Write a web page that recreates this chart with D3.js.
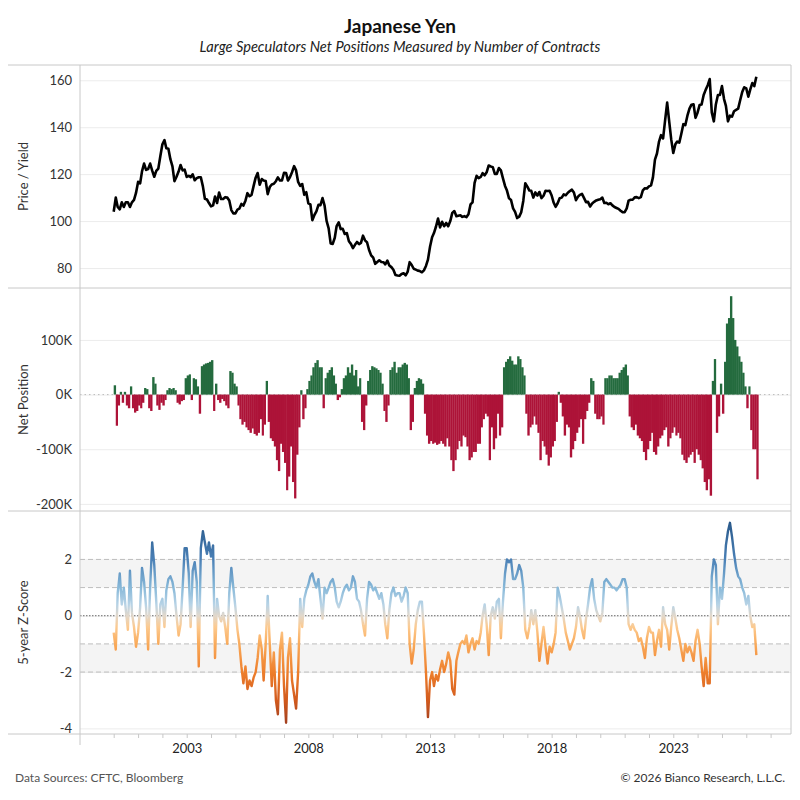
<!DOCTYPE html>
<html>
<head>
<meta charset="utf-8">
<script src="https://cdn.jsdelivr.net/npm/d3@7"></script>
<style>
  body { margin: 0; background: #fff; }
  svg { font-family: Lato, "Open Sans", sans-serif; }
</style>
</head>
<body>
<div id="chart"></div>
<script>
// monthly values, first point = Jan 2000
const startYear = 2000;

const price = [
  104, 110, 106, 105, 108, 106, 108, 108, 106, 108, 109, 112,
  116.7, 116.1, 121.2, 124.5, 121.8, 122.2, 124.5, 121.5, 118.9, 121.4, 122.4, 127.6,
  132.7, 134.5, 131.0, 130.8, 126.4, 123.3, 117.0, 118.9, 121.1, 123.9, 121.6, 121.9,
  118.8, 119.3, 118.7, 119.9, 117.4, 118.3, 118.7, 118.7, 114.8, 109.5, 109.2, 107.7,
  106.3, 106.7, 110.5, 107.7, 112.2, 109.4, 109.4, 110.2, 110.0, 108.8, 104.7, 103.3,
  103.3, 104.9, 105.3, 107.3, 106.6, 108.7, 111.9, 110.6, 111.2, 114.9, 118.5, 120.5,
  115.5, 117.9, 117.3, 117.1, 111.5, 114.5, 115.6, 115.9, 117.0, 118.6, 117.3, 117.3,
  120.6, 120.5, 117.3, 118.8, 120.8, 123.4, 121.6, 116.7, 115.0, 115.8, 111.2, 112.3,
  107.6, 107.1, 100.4, 102.6, 104.1, 106.9, 106.8, 109.8, 106.6, 100.1, 96.9, 90.5,
  90.3, 92.9, 97.9, 99.5, 96.6, 96.7, 94.5, 94.9, 91.4, 90.3, 88.5, 89.9,
  91.1, 90.2, 90.7, 93.8, 91.8, 90.9, 87.7, 85.4, 84.4, 81.8, 82.6, 83.3,
  82.6, 82.5, 81.6, 83.2, 81.1, 80.4, 79.3, 77.0, 76.8, 76.7, 77.5, 77.8,
  76.9, 78.5, 82.5, 81.3, 79.7, 79.3, 78.9, 78.7, 78.2, 79.0, 80.9, 83.6,
  89.1, 93.1, 94.9, 97.7, 101.1, 97.3, 99.7, 97.8, 99.2, 97.8, 100.0, 103.5,
  104.3, 102.1, 102.3, 102.5, 101.8, 102.1, 101.7, 102.9, 107.1, 108.0, 116.3, 119.3,
  118.3, 118.8, 120.4, 119.5, 120.8, 123.7, 123.3, 123.0, 120.1, 120.1, 122.6, 121.6,
  118.2, 115.0, 113.0, 109.7, 109.0, 105.4, 103.9, 101.3, 101.9, 103.8, 108.6, 116.1,
  114.7, 113.0, 112.9, 110.0, 112.2, 110.9, 112.4, 109.8, 110.8, 112.9, 112.8, 112.9,
  110.9, 107.8, 106.1, 107.6, 109.7, 110.0, 111.4, 111.0, 112.1, 112.8, 113.4, 112.2,
  108.9, 110.4, 111.2, 111.6, 109.9, 108.1, 108.2, 106.2, 107.5, 108.2, 108.8, 109.1,
  109.3, 110.0, 107.7, 107.8, 107.2, 107.6, 106.7, 106.0, 105.6, 105.2, 104.4, 103.8,
  103.8, 105.4, 108.7, 109.1, 109.1, 110.1, 110.2, 109.8, 110.2, 113.1, 114.0, 113.9,
  114.8, 115.2, 118.5, 126.2, 128.8, 133.9, 136.6, 135.2, 143.1, 150.5, 142.4, 134.8,
  129.0, 132.7, 133.9, 133.4, 137.1, 141.3, 140.9, 144.9, 147.9, 149.6, 149.8, 144.0,
  146.3, 149.5, 149.7, 153.7, 155.9, 157.9, 160.5, 146.3, 142.5, 149.7, 153.7, 153.7,
  157.5, 152.0, 149.1, 142.5, 144.9, 144.5, 146.8, 147.4, 147.9, 151.5, 155.0, 157.0,
  156.5, 153.0, 156.0, 158.8, 157.5, 161.5
];

// thousands of contracts
const netPosition = [
  17, -57, -20, 5, -15, 5, -20, -25, 15, -25, -33, -30,
  -20, -25, -15, 12, 10, -25, -30, 32, 20, -20, -28, -15,
  -20, -10, 8, 12, 10, 12, 8, -15, -18, -12, -10, 30,
  35, 37, -10, 30, 28, 15, -35, 52, 55, 57, 58, 60,
  63, -30, 20, -10, -15, -8, -12, -20, -25, 43, 40, 20,
  15, -20, -45, -55, -50, -60, -65, -70, -62, -72, -75, -70,
  -45, -75, -55, 25, -50, -80, -85, -95, -120, -140, -90, -105,
  -125, -175, -150, -95, -160, -190, -110, -60, 8, -45, -25, 10,
  25, 35, 50, 58, 63, 50, 50, -25, 30, 40, 45, 50,
  35, 20, -10, -5, 10, 30, 35, 50, 40, 55, 35, 45,
  15, 30, -50, -65, -20, 25, 45, 52, 50, 48, 45, 40,
  20, -30, -50, -20, 45, 50, 60, 40, 50, 50, 55, 58,
  55, 30, -65, -50, 12, 25, 30, 28, 20, -35, -75, -90,
  -85, -90, -88, -92, -90, -85, -90, -95, -80, -95, -120, -140,
  -120, -100, -85, -95, -75, -78, -95, -120, -115, -105, -105, -90,
  -90, -60, -45, -35, -40, -120, -60, -100, -80, -35, -75, -60,
  50, 60, 65, 70, 62, 55, 55, 70, 65, 50, 35, -35,
  -75, -60, -55, -40, -55, -70, -120, -85, -95, -110, -130, -115,
  -95, -85, -50, 5, -15, -40, -75, -55, -60, -115, -100, -85,
  -70, -60, -45, -90, -45, -30, -15, 30, 25, -35, -45, -45,
  -40, -55, 30, 30, 35, 35, 30, 30, 30, 40, 45, 50,
  55, 35, -40, -60, -65, -55, -75, -80, -85, -105, -120, -100,
  -85, -70, -105, -110, -95, -80, -75, -65, -60, -95, -80, -70,
  -60, -75, -70, -80, -110, -120, -125, -115, -110, -105, -125, -100,
  -110, -120, -135, -160, -175, -155, -185, 25, 65, -70, -40, 20,
  -35, 60, 130, 140, 180, 140, 100, 88, 70, 60, 40, 15,
  -25, 15, -65, -100, -100, -155
];

const zScore = [
  -0.6, -1.2, 0.8, 1.5, 0.4, 1.0, 0.2, -0.5, 1.6, 0.1, -0.4, -1.1,
  -0.6, 0.3, 1.7, 1.2, 0.3, -1.2, 1.0, 2.6, 1.8, 0.5, -1.0, 0.4,
  0.6, -0.4, 0.9, 1.3, 1.4, 1.2, 0.8, 0.0, -0.7, -0.3, 1.0, 2.4,
  2.4, 1.5, -0.4, 1.6, 1.9, 1.2, -1.8, 2.4, 3.0, 2.6, 2.2, 2.6,
  2.1, 2.5, -1.5, 0.6, 0.0, -0.2, 0.1, -0.4, -1.0, 0.8, 1.7, 1.0,
  0.3, -0.5, -1.0, -1.8, -2.4, -1.8, -2.6, -2.3, -2.5, -2.2, -2.0, -1.5,
  -0.7, -1.2, -2.3, -1.0, 0.7, -1.0, -2.5, -1.3, -3.0, -3.5, -1.2, -0.6,
  -2.5, -3.8, -1.5, -0.8, -2.3, -2.8, -3.3, -2.0, 0.6, -0.4, 0.6, 0.9,
  1.1, 1.4, 1.5, 1.2, 1.0, 1.3, 0.6, -0.1, 1.0, 0.8, 1.0, 1.2,
  1.3, 1.0, 0.5, 0.3, 0.5, 0.8, 1.0, 1.1, 0.9, 1.0, 1.4, 1.2,
  0.6, 0.5, 0.2, -0.3, -0.7, 0.6, 1.2, 1.1, 0.9, 1.0, 0.8, 0.6,
  0.8, 0.4, -0.3, -0.8, 0.2, 0.8, 1.0, 0.7, 0.8, 0.8, 0.5, 0.7,
  1.0, 0.8, -1.0, -1.7, -1.2, -0.3, 0.2, 0.5, 0.5, -0.6, -2.0, -3.6,
  -2.3, -2.0, -2.5, -2.1, -2.3, -1.9, -1.6, -2.0, -1.7, -1.3, -1.6, -2.6,
  -2.8, -1.6, -1.3, -1.0, -0.9, -1.0, -0.7, -1.3, -1.0, -0.8, -1.2, -0.9,
  -1.0, -0.6, 0.0, 0.4, -0.3, -1.4, 0.0, 0.3, -0.1, 0.5, 0.6, -0.8,
  0.5, 1.5, 2.0, 1.9, 2.0, 1.3, 1.3, 1.5, 1.8, 1.6, 1.0, -0.5,
  -0.8, -0.4, 0.2, -0.3, 0.2, -0.6, -1.6, -1.0, -0.4, -1.1, -1.7, -1.1,
  -1.3, -1.0, -0.6, 1.0, 0.7, 0.3, -0.1, -0.6, -0.9, -1.2, -1.0, -0.8,
  -0.4, 0.3, 0.0, -0.5, -0.8, -0.1, 0.4, 1.0, 1.3, 0.6, 0.2, 0.0,
  -0.2, 0.1, 1.2, 1.3, 1.2, 1.1, 1.0, 1.0, 0.9, 1.0, 1.1, 1.3,
  1.3, 1.0, -0.3, -0.5, -0.3, -0.5, -0.6, -0.9, -0.8, -1.1, -1.5, -0.8,
  -0.4, -0.6, -0.6, -1.4, -0.9, -0.5, -1.1, 0.3, -0.3, -0.5, -1.2, -0.4,
  0.3, -0.1, -0.5, -0.8, -1.2, -1.6, -1.0, -1.3, -1.1, -1.3, -1.6, -0.9,
  -0.5, -1.0, -1.8, -2.5, -1.5, -2.4, -2.4, 1.4, 2.0, 1.8, -0.3, 1.0,
  0.6, 1.5, 2.5, 3.0, 3.3, 2.8, 2.2, 1.7, 1.4, 1.3, 1.0, 0.8,
  0.4, 0.7, 0.0, -0.4, -0.3, -1.4
];

const yearLabels = [2003, 2008, 2013, 2018, 2023];
const priceTicks = [80, 100, 120, 140, 160];
const netTicks = [-200, -100, 0, 100];
const zTicks = [-4, -2, 0, 2];
const zRefLines = [-2, -1, 1, 2];
const zBands = [[1, 2], [-2, -1]];
const zColorStops = [
  [3.3, '#2a5a8b'], [2.0, '#4a80b6'], [1.0, '#88b9d9'], [0.4, '#b7d3e6'],
  [0.0, '#e2d8cb'], [-0.4, '#fcca90'], [-1.0, '#f9aa5a'], [-2.0, '#ee7f2c'],
  [-3.0, '#d25a1d'], [-3.8, '#a3401f']
];

const plotL = 80, plotR = 791;
const panelPrice = [65, 288], panelNet = [288, 511], panelZ = [511, 734];
const lineColor = '#c8c8c8', gridColor = '#ececec';

const dates = price.map((d, i) => new Date(startYear, i, 1));

var svg = d3.select('#chart').append('svg')
  .attr('width', 800)
  .attr('height', 800);

var x = d3.scaleTime()
  .domain([new Date(2000, 0, 1), new Date(2027, 0, 1)])
  .range([113.7, 770.6]);

var yPrice = d3.scaleLinear().domain([71.5, 166.5]).range([panelPrice[1], panelPrice[0]]);
var yNet = d3.scaleLinear().domain([-213, 195]).range([panelNet[1], panelNet[0]]);
var yZ = d3.scaleLinear().domain([-4.2, 3.72]).range([panelZ[1], panelZ[0]]);

// titles
svg.append('text')
  .attr('x', 400).attr('y', 33)
  .attr('text-anchor', 'middle')
  .attr('font-size', 19).attr('font-weight', 'bold')
  .attr('fill', '#111')
  .text('Japanese Yen');

svg.append('text')
  .attr('x', 400).attr('y', 52)
  .attr('text-anchor', 'middle')
  .attr('font-size', 14.6).attr('font-style', 'italic')
  .attr('fill', '#222')
  .text('Large Speculators Net Positions Measured by Number of Contracts');

// grid + y axes
function gridAndAxis(scale, ticks, fmt) {
  svg.append('g')
    .attr('transform', 'translate(' + plotL + ',0)')
    .call(d3.axisLeft(scale).tickValues(ticks).tickSize(-(plotR - plotL)).tickFormat(''))
    .call(g => g.select('.domain').remove())
    .call(g => g.selectAll('line').attr('stroke', gridColor));

  svg.append('g')
    .attr('transform', 'translate(' + (plotL - 8) + ',0)')
    .call(d3.axisLeft(scale).tickValues(ticks).tickSize(0).tickPadding(0).tickFormat(fmt))
    .call(g => g.select('.domain').remove())
    .call(g => g.selectAll('text')
      .attr('font-family', 'Lato, sans-serif')
      .attr('font-size', 13)
      .attr('fill', '#333'));
}

gridAndAxis(yPrice, priceTicks, d => String(d));
gridAndAxis(yNet, netTicks, d => d + 'K');
gridAndAxis(yZ, zTicks, d => String(d));

// z-score bands and reference lines
svg.selectAll('.zband')
  .data(zBands)
  .enter().append('rect')
  .attr('class', 'zband')
  .attr('x', plotL + 0.5)
  .attr('width', plotR - plotL - 1)
  .attr('y', d => yZ(d[1]))
  .attr('height', d => yZ(d[0]) - yZ(d[1]))
  .attr('fill', '#f4f4f4');

svg.selectAll('.zref')
  .data(zRefLines)
  .enter().append('line')
  .attr('class', 'zref')
  .attr('x1', plotL).attr('x2', plotR)
  .attr('y1', d => yZ(d)).attr('y2', d => yZ(d))
  .attr('stroke', '#bdbdbd')
  .attr('stroke-dasharray', '5,3');

svg.append('line')
  .attr('x1', plotL).attr('x2', plotR)
  .attr('y1', yZ(0)).attr('y2', yZ(0))
  .attr('stroke', '#666')
  .attr('stroke-dasharray', '1.5,1.5');

svg.append('line')
  .attr('x1', plotL).attr('x2', 788)
  .attr('y1', yNet(0)).attr('y2', yNet(0))
  .attr('stroke', '#bbb')
  .attr('stroke-dasharray', '1.5,3');

// price line
var priceLine = d3.line()
  .x((d, i) => x(dates[i]))
  .y(d => yPrice(d));

svg.append('path')
  .datum(price)
  .attr('d', priceLine)
  .attr('fill', 'none')
  .attr('stroke', '#000')
  .attr('stroke-width', 2.6)
  .attr('stroke-linejoin', 'round');

// net position bars
svg.selectAll('.bar')
  .data(netPosition)
  .enter().append('rect')
  .attr('class', 'bar')
  .attr('x', (d, i) => x(dates[i]))
  .attr('width', (d, i) => x(new Date(startYear, i + 1, 1)) - x(dates[i]) + 0.3)
  .attr('y', d => yNet(Math.max(0, d)))
  .attr('height', d => Math.abs(yNet(d) - yNet(0)))
  .attr('fill', d => d >= 0 ? '#246b3e' : '#ad1338');

// z-score line with diverging gradient
var grad = svg.append('defs').append('linearGradient')
  .attr('id', 'zgrad')
  .attr('gradientUnits', 'userSpaceOnUse')
  .attr('x1', 0).attr('x2', 0)
  .attr('y1', yZ(zColorStops[0][0]))
  .attr('y2', yZ(zColorStops[zColorStops.length - 1][0]));

var gTop = yZ(zColorStops[0][0]), gBot = yZ(zColorStops[zColorStops.length - 1][0]);
grad.selectAll('stop')
  .data(zColorStops)
  .enter().append('stop')
  .attr('offset', d => (yZ(d[0]) - gTop) / (gBot - gTop))
  .attr('stop-color', d => d[1]);

var zLine = d3.line()
  .x((d, i) => x(dates[i]))
  .y(d => yZ(d));

svg.append('path')
  .datum(zScore)
  .attr('d', zLine)
  .attr('fill', 'none')
  .attr('stroke', 'url(#zgrad)')
  .attr('stroke-width', 2.4)
  .attr('stroke-linejoin', 'round');

// x axis
svg.append('g')
  .attr('transform', 'translate(0,' + panelZ[1] + ')')
  .call(d3.axisBottom(x)
    .ticks(d3.timeYear.every(1))
    .tickSize(4)
    .tickPadding(6)
    .tickFormat(d => yearLabels.includes(d.getFullYear()) ? d.getFullYear() : ''))
  .call(g => g.select('.domain').remove())
  .call(g => g.selectAll('line').attr('stroke', '#c8c8c8'))
  .call(g => g.selectAll('text')
    .attr('font-family', 'Lato, sans-serif')
    .attr('font-size', 13)
    .attr('fill', '#222'));

// frame
[panelPrice[0], panelNet[0], panelZ[0], panelZ[1]].forEach(function(yy) {
  svg.append('line')
    .attr('x1', 8).attr('x2', plotR)
    .attr('y1', yy).attr('y2', yy)
    .attr('stroke', lineColor);
});
svg.append('line')
  .attr('x1', plotL).attr('x2', plotL)
  .attr('y1', panelPrice[0]).attr('y2', 745)
  .attr('stroke', lineColor);
svg.append('line')
  .attr('x1', plotR).attr('x2', plotR)
  .attr('y1', panelPrice[0]).attr('y2', panelZ[1])
  .attr('stroke', lineColor);

// axis titles
var axisTitles = [
  ['Price / Yield', (panelPrice[0] + panelPrice[1]) / 2],
  ['Net Position', (panelNet[0] + panelNet[1]) / 2],
  ['5-year Z-Score', (panelZ[0] + panelZ[1]) / 2]
];
axisTitles.forEach(function(t) {
  svg.append('text')
    .attr('transform', 'translate(28,' + t[1] + ') rotate(-90)')
    .attr('text-anchor', 'middle')
    .attr('font-size', 13)
    .attr('fill', '#333')
    .text(t[0]);
});

// footer
svg.append('text')
  .attr('x', 15).attr('y', 782)
  .attr('font-size', 12)
  .attr('fill', '#555')
  .text('Data Sources: CFTC, Bloomberg');

svg.append('text')
  .attr('x', 785).attr('y', 782)
  .attr('text-anchor', 'end')
  .attr('font-size', 12)
  .attr('fill', '#333')
  .text('© 2026 Bianco Research, L.L.C.');
</script>
</body>
</html>
